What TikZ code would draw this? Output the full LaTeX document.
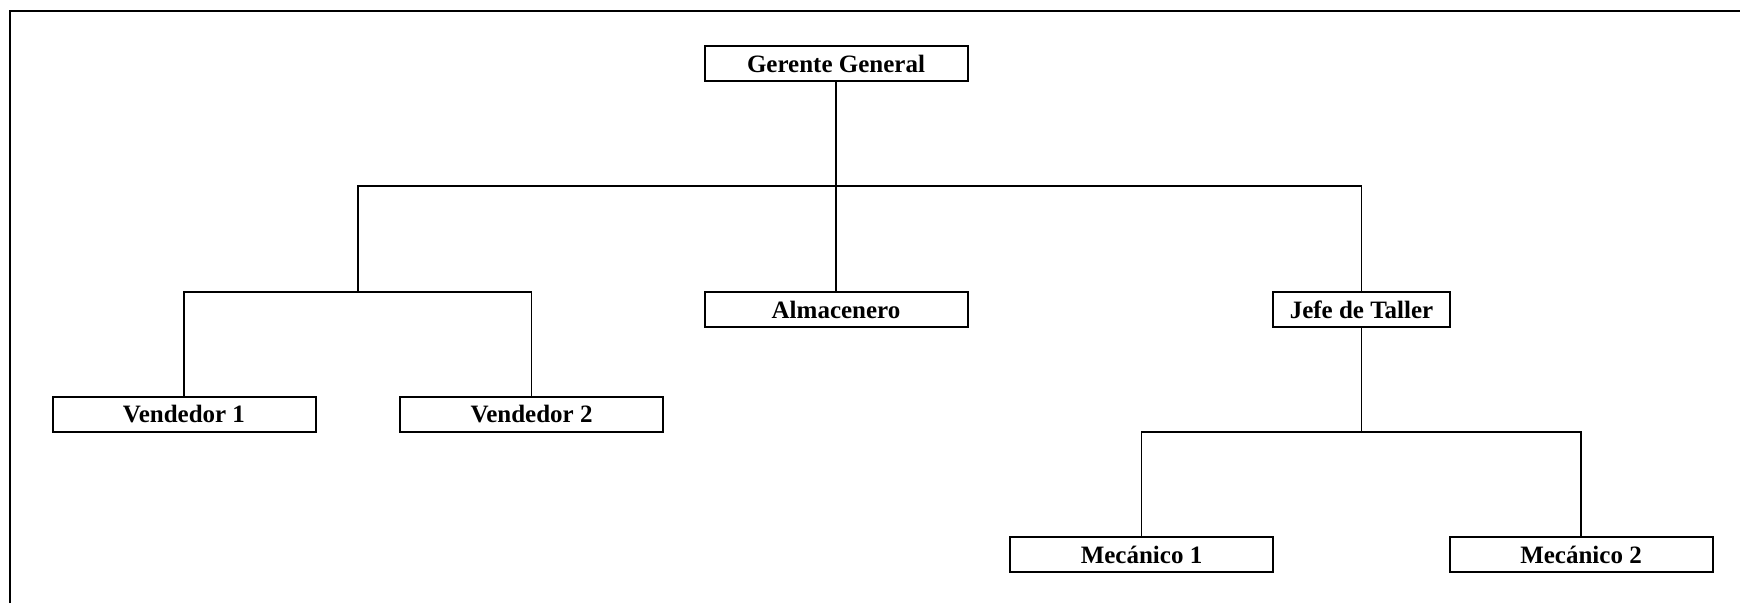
\documentclass[tikz,border=0pt]{standalone}
\usepackage{fontspec}
\setmainfont{Liberation Serif}
\usetikzlibrary{positioning}
\tikzset{
  cargo/.style={
    rectangle, draw, color=black, fill=white,
    line width=1.5pt, minimum width=197.25pt, minimum height=26.25pt,
    inner sep=0pt, font=\fontsize{18.75}{22}\selectfont\bfseries
  },
  linea/.style={
    draw, color=black, line width=1pt
  }
}

\begin{document}
\begin{tikzpicture}[x=0.75pt, y=-0.75pt]
        \useasboundingbox (0,0) rectangle (1740,603);
        \draw[line width=1.6pt] (10,603) -- (10,11) -- (1740,11);

        \node[cargo] (gerente) at (836,63.5) {Gerente General};
        \node[cargo] (almacen) at (836,309.5) {Almacenero};
        \node[cargo, minimum width=132.75pt] (jefe) at (1361.5,309.5) {Jefe de Taller};
        \node[cargo] (vend1) at (184,414.5) {Vendedor 1};
        \node[cargo] (vend2) at (531.5,414.5) {Vendedor 2};
        \node[cargo] (mec1) at (1141.5,554.5) {Mecánico 1};
        \node[cargo] (mec2) at (1581,554.5) {Mecánico 2};

        \coordinate (cruce) at (836,186);
        \coordinate (ventas) at (358,292);
        \coordinate (taller) at (1361.5,432);

        \draw[linea] (gerente.south) -- (cruce);
        \draw[linea] (ventas) |- (cruce) -| (jefe.north);
        \draw[linea] (cruce) -- (almacen.north);
        \draw[linea] (vend1.north) |- (ventas) -| (vend2.north);
        \draw[linea] (jefe.south) -- (taller);
        \draw[linea] (mec1.north) |- (taller) -| (mec2.north);
      \end{tikzpicture}
\end{document}
